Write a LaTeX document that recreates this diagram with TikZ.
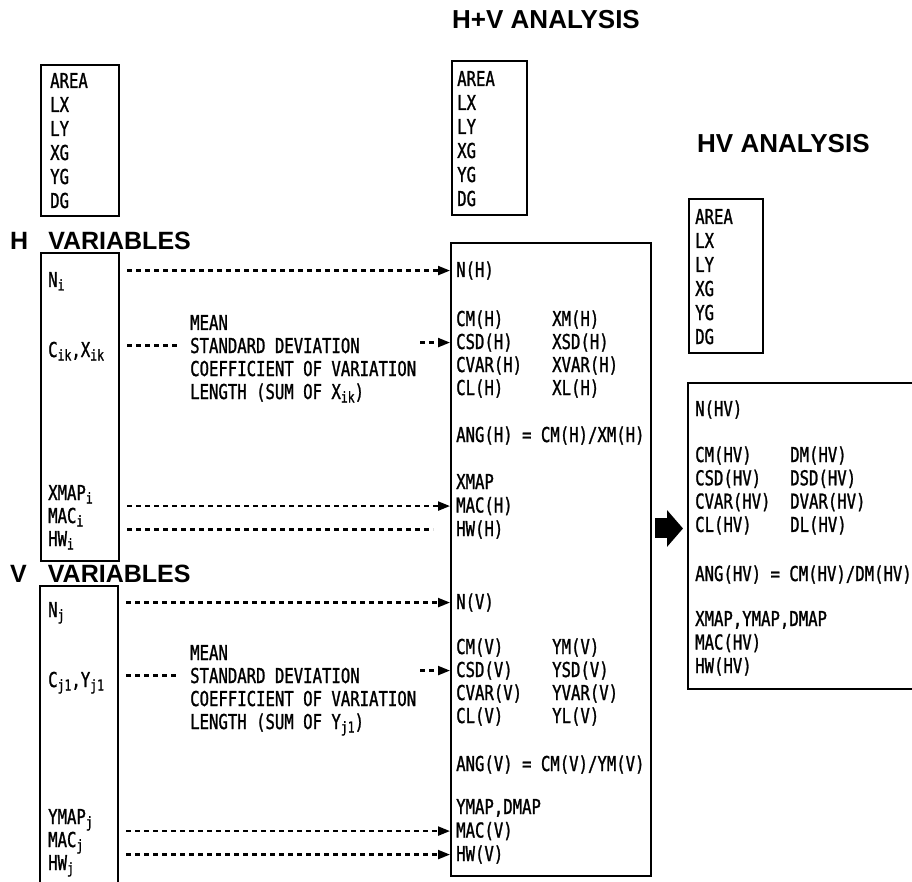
\documentclass[tikz,border=0pt]{standalone}
\usepackage{fontspec}
\usetikzlibrary{arrows.meta,calc}
\newfontfamily\boxfont{DejaVu Sans Mono}[FakeStretch=0.763,FakeBold=1.2]
\newfontfamily\headfont{Liberation Sans}
\newcommand{\idx}[1]{\raisebox{-3.5pt}{\fontsize{15}{15}\selectfont #1}}

\begin{document}
\begin{tikzpicture}[x=1pt,y=-1pt,line join=miter,
    frame/.style={draw,line width=2pt,inner sep=0,anchor=north west},
    txt/.style={font=\fontsize{20.5}{23}\boxfont,anchor=base west,inner sep=0},
    hd/.style={font=\fontsize{26}{26}\headfont\bfseries,anchor=base west,inner sep=0},
    dashline/.style={line width=2.2pt,dash pattern=on 5pt off 4pt},
    link/.style={dashline,-{Triangle[length=12pt,width=9pt]}}]
  \useasboundingbox (0,0) rectangle (912,882);
  \clip (0,0) rectangle (912,882);

  % headings
  \node[hd] (hvhead) at (452,29) {H+V ANALYSIS};
  \node[hd] (hvrhead) at (697,153) {HV ANALYSIS};
  \node[hd,font=\fontsize{25}{25}\headfont\bfseries] (hhead) at (10,250) {H\hspace{20pt}VARIABLES};
  \node[hd,font=\fontsize{25}{25}\headfont\bfseries] (vhead) at (10,582) {V\hspace{21pt}VARIABLES};

  % frames
  \node[frame,minimum width=78pt,minimum height=151pt] (gbox) at (40,64) {};
  \node[frame,minimum width=75pt,minimum height=154pt] (hvgbox) at (451,60) {};
  \node[frame,minimum width=74pt,minimum height=154pt] (hvrgbox) at (688,198) {};
  \node[frame,minimum width=78pt,minimum height=308pt] (hbox) at (40,252) {};
  \node[frame,minimum width=78pt,minimum height=320pt] (vbox) at (39,585) {};
  \node[frame,minimum width=200pt,minimum height=633pt] (hvbox) at (450,242) {};
  \node[frame,minimum width=250pt,minimum height=306pt] (hvrbox) at (687,382) {};

  % geometry lists
  \foreach \t [count=\i] in {AREA,LX,LY,XG,YG,DG}{
    \node[txt] (g\i) at (50,{88+24*(\i-1)}) {\t};
    \node[txt] (hvg\i) at (457,{86+24*(\i-1)}) {\t};
    \node[txt] (hvrg\i) at (695,{224+24*(\i-1)}) {\t};
  }

  % H variables
  \node[txt] (ni) at (48,287) {N\idx{i}};
  \node[txt] (cik) at (48,357) {C\idx{ik},X\idx{ik}};
  \foreach \t [count=\i] in {XMAP\idx{i},MAC\idx{i},HW\idx{i}}
    \node[txt] (hm\i) at (48,{500+23*(\i-1)}) {\t};
  \foreach \t [count=\i] in {MEAN,STANDARD DEVIATION,COEFFICIENT OF VARIATION,{LENGTH (SUM OF X\idx{ik})}}
    \node[txt] (hs\i) at (190,{330+23*(\i-1)}) {\t};

  % V variables
  \node[txt] (nj) at (48,617) {N\idx{j}};
  \node[txt] (cjl) at (48,687) {C\idx{j1},Y\idx{j1}};
  \foreach \t [count=\i] in {YMAP\idx{j},MAC\idx{j},HW\idx{j}}
    \node[txt] (vm\i) at (48,{824+23*(\i-1)}) {\t};
  \foreach \t [count=\i] in {MEAN,STANDARD DEVIATION,COEFFICIENT OF VARIATION,{LENGTH (SUM OF Y\idx{j1})}}
    \node[txt] (vs\i) at (190,{660+23*(\i-1)}) {\t};

  % H+V analysis
  \node[txt] (nh) at (456,277) {N(H)};
  \foreach \a/\b [count=\i] in {CM/XM,CSD/XSD,CVAR/XVAR,CL/XL}{
    \node[txt] (hc\i) at (456,{326+23*(\i-1)}) {\a(H)};
    \node[txt] (hx\i) at (552,{326+23*(\i-1)}) {\b(H)};
  }
  \node[txt] (angh) at (456,442) {ANG(H) = CM(H)/XM(H)};
  \foreach \t [count=\i] in {XMAP,MAC(H),HW(H)}
    \node[txt] (hp\i) at (456,{489+23.5*(\i-1)}) {\t};
  \node[txt] (nv) at (456,609) {N(V)};
  \foreach \a/\b [count=\i] in {CM/YM,CSD/YSD,CVAR/YVAR,CL/YL}{
    \node[txt] (vc\i) at (456,{654+23*(\i-1)}) {\a(V)};
    \node[txt] (vy\i) at (552,{654+23*(\i-1)}) {\b(V)};
  }
  \node[txt] (angv) at (456,771) {ANG(V) = CM(V)/YM(V)};
  \foreach \t [count=\i] in {{YMAP,DMAP},MAC(V),HW(V)}
    \node[txt] (vp\i) at (456,{814+23.5*(\i-1)}) {\t};

  % HV analysis
  \node[txt] (nhv) at (695,416) {N(HV)};
  \foreach \a/\b [count=\i] in {CM/DM,CSD/DSD,CVAR/DVAR,CL/DL}{
    \node[txt] (hvc\i) at (695,{462+23.3*(\i-1)}) {\a(HV)};
    \node[txt] (hvd\i) at (790,{462+23.3*(\i-1)}) {\b(HV)};
  }
  \node[txt] (anghv) at (695,581) {ANG(HV) = CM(HV)/DM(HV)};
  \foreach \t [count=\i] in {{XMAP,YMAP,DMAP},MAC(HV),HW(HV)}
    \node[txt] (hvp\i) at (695,{626+23.5*(\i-1)}) {\t};

  % links
  \draw[link] ([xshift=7pt]hbox.east |- nh.west) -- (hvbox.west |- nh.west);
  \draw[dashline] ([xshift=7pt]hbox.east |- hs2.west) -- ([xshift=-12pt]hs2.west);
  \draw[link] ([xshift=-30pt]hvbox.west |- hc2.west) -- (hvbox.west |- hc2.west);
  \draw[link] ([xshift=7pt]hbox.east |- hp2.west) -- (hvbox.west |- hp2.west);
  \draw[dashline] ([xshift=7pt]hbox.east |- hp3.west) -- ([xshift=-17pt]hvbox.west |- hp3.west);
  \draw[link] ([xshift=7pt]vbox.east |- nv.west) -- (hvbox.west |- nv.west);
  \draw[dashline] ([xshift=7pt]vbox.east |- vs2.west) -- ([xshift=-12pt]vs2.west);
  \draw[link] ([xshift=-30pt]hvbox.west |- vc2.west) -- (hvbox.west |- vc2.west);
  \draw[link] ([xshift=7pt]vbox.east |- vp2.west) -- (hvbox.west |- vp2.west);
  \draw[link] ([xshift=7pt]vbox.east |- vp3.west) -- (hvbox.west |- vp3.west);
  \draw[line width=20pt,-{Triangle[length=16pt,width=36pt]}]
    ([xshift=3pt,yshift=-3pt]hvbox.east |- hvc4.west) -- ([xshift=-4pt,yshift=-3pt]hvrbox.west |- hvc4.west);
\end{tikzpicture}
\end{document}
